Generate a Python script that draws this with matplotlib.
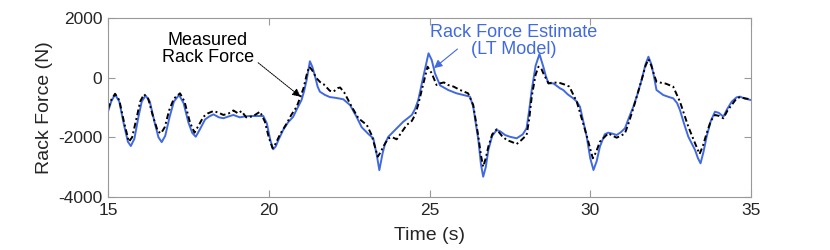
import matplotlib
matplotlib.use("Agg")
import matplotlib.pyplot as plt

plt.rcParams['font.family'] = ['Liberation Sans', 'DejaVu Sans']
plt.rcParams['axes.unicode_minus'] = False

# Estimated rack force (LT model), blue
t_est = [15.00, 15.10, 15.22, 15.35, 15.50, 15.62, 15.71, 15.82, 15.95, 16.05, 16.17, 16.30, 16.45, 16.57,
         16.67, 16.78, 16.92, 17.05, 17.21, 17.35, 17.50, 17.62, 17.73, 17.85, 18.02, 18.15, 18.28, 18.45,
         18.59, 18.75, 18.90, 19.10, 19.25, 19.42, 19.60, 19.83, 19.94, 20.05, 20.14, 20.22, 20.30, 20.45,
         20.60, 20.76, 20.90, 21.02, 21.10, 21.18, 21.28, 21.36, 21.44, 21.52, 21.59, 21.75, 21.90, 22.10,
         22.32, 22.53, 22.73, 22.89, 23.10, 23.25, 23.36, 23.44, 23.54, 23.62, 23.72, 23.98, 24.18, 24.45,
         24.55, 24.65, 24.81, 24.97, 25.07, 25.17, 25.33, 25.58, 25.84, 26.05, 26.26, 26.36, 26.52, 26.60,
         26.67, 26.75, 26.83, 26.95, 27.09, 27.20, 27.35, 27.50, 27.71, 27.90, 28.02, 28.10, 28.18, 28.30,
         28.42, 28.54, 28.62, 28.70, 28.85, 29.06, 29.16, 29.30, 29.47, 29.58, 29.68, 29.89, 30.00, 30.10,
         30.20, 30.30, 30.45, 30.56, 30.70, 30.82, 30.95, 31.08, 31.20, 31.34, 31.47, 31.60, 31.72, 31.81,
         31.90, 31.98, 32.06, 32.27, 32.45, 32.58, 32.70, 32.79, 32.92, 33.05, 33.26, 33.35, 33.43, 33.52,
         33.62, 33.75, 33.88, 34.00, 34.14, 34.26, 34.40, 34.55, 34.66, 34.80, 35.00]
f_est = [-1140, -800, -560, -800, -1600, -2150, -2290, -2050, -1300, -800, -600, -800, -1500, -2000,
         -2160, -1950, -1300, -800, -580, -850, -1500, -1850, -1980, -1750, -1400, -1300, -1230, -1330,
         -1360, -1300, -1250, -1330, -1300, -1285, -1285, -1285, -1530, -2100, -2400, -2300, -2090, -1750,
         -1500, -1310, -1000, -750, -450, -70, 550, 350, 45, -300, -470, -580, -650, -680,
         -725, -920, -1310, -1660, -1890, -2030, -2590, -3100, -2540, -2200, -1980, -1700, -1480, -1250,
         -1050, -750, 45, 816, 590, 146, -260, -413, -524, -580, -636, -973, -2090, -2900,
         -3320, -3000, -2425, -1950, -1754, -1800, -1922, -1980, -2033, -1900, -1697, -1100, -413, 400,
         790, 368, 50, -190, -190, -357, -413, -560, -692, -800, -973, -1978, -2700, -3095,
         -2800, -2313, -1900, -1843, -1880, -1922, -1830, -1697, -1350, -973, -550, -67, 450, 703,
         450, 50, -413, -581, -650, -692, -850, -1084, -1550, -1978, -2425, -2700, -2871, -2500,
         -1978, -1450, -1141, -1180, -1308, -1050, -805, -660, -636, -700, -750]

# Measured rack force, black dash-dot
t_meas = [15.00, 15.10, 15.22, 15.35, 15.50, 15.65, 15.75, 15.90, 16.00, 16.12, 16.25, 16.40, 16.55, 16.65,
          16.77, 16.90, 17.05, 17.24, 17.38, 17.55, 17.69, 17.82, 17.97, 18.10, 18.28, 18.45, 18.59, 18.75,
          18.90, 19.05, 19.15, 19.30, 19.50, 19.73, 19.88, 20.00, 20.12, 20.22, 20.35, 20.56, 20.70, 20.87,
          21.00, 21.08, 21.18, 21.26, 21.35, 21.49, 21.60, 21.70, 21.90, 22.01, 22.15, 22.22, 22.35, 22.58,
          22.79, 23.05, 23.20, 23.39, 23.48, 23.56, 23.72, 23.85, 23.98, 24.15, 24.29, 24.45, 24.55, 24.65,
          24.76, 24.94, 25.07, 25.22, 25.33, 25.45, 25.58, 25.75, 25.95, 26.10, 26.20, 26.36, 26.52, 26.60,
          26.67, 26.75, 26.83, 26.95, 27.09, 27.25, 27.40, 27.55, 27.71, 27.85, 28.02, 28.10, 28.18, 28.30,
          28.39, 28.48, 28.54, 28.70, 28.85, 29.06, 29.20, 29.35, 29.58, 29.84, 30.08, 30.18, 30.30, 30.56,
          30.70, 30.82, 30.95, 31.08, 31.20, 31.34, 31.47, 31.60, 31.72, 31.81, 31.90, 32.00, 32.06, 32.20,
          32.35, 32.58, 32.79, 33.05, 33.26, 33.40, 33.50, 33.62, 33.75, 33.88, 34.00, 34.14, 34.27, 34.40,
          34.55, 34.66, 34.80, 35.00]
f_meas = [-1050, -750, -540, -750, -1500, -2146, -2000, -1300, -800, -558, -700, -1300, -1800, -1866,
          -1650, -1100, -700, -524, -800, -1500, -1843, -1600, -1308, -1200, -1117, -1180, -1250, -1200,
          -1100, -1200, -1120, -1330, -1300, -1140, -1476, -2000, -2368, -2200, -1900, -1531, -1250, -973,
          -600, -357, 100, 368, 250, -22, -150, -212, -440, -470, -350, -330, -500, -973,
          -1362, -1586, -1922, -2648, -2500, -2313, -2033, -2000, -2067, -1800, -1586, -1450, -1251, -900,
          -413, 368, 146, -246, -190, -160, -246, -300, -413, -480, -524, -916, -1978, -2600,
          -2985, -2700, -2313, -1900, -1731, -1950, -2090, -2150, -2224, -2100, -1922, -1400, -636, 100,
          368, 300, 146, -190, -160, -180, -230, -300, -805, -1754, -2703, -2500, -2145, -1866,
          -1950, -2012, -1950, -1866, -1500, -1028, -550, -67, 400, 616, 400, 50, -135, -170,
          -200, -302, -805, -1643, -2201, -2559, -2300, -1866, -1450, -1251, -1280, -1362, -1100, -917,
          -700, -650, -690, -730]

x_ticks = [15, 20, 25, 30, 35]
y_ticks = [-4000, -2000, 0, 2000]

blue = '#4169E1'
fig = plt.figure(figsize=(8.3, 2.5), dpi=100)
ax = fig.add_axes([108/830, 53/250, 643/830, 179/250])

ax.plot(t_est, f_est, color=blue, lw=1.4)
ax.plot(t_meas, f_meas, color='black', lw=1.4, linestyle=(0, (3, 1.5, 1, 1.5)))

ax.set_xlim(15, 35)
ax.set_ylim(-4000, 2000)
ax.set_xticks(x_ticks)
ax.set_yticks(y_ticks)
ax.tick_params(direction='in', top=True, right=True, length=5, width=0.8,
               labelsize=12.5, colors='#999999', labelcolor='#262626', pad=4)
for s in ax.spines.values():
    s.set_color('#999999')
    s.set_linewidth(0.8)
ax.set_xlabel('Time (s)', fontsize=14, color='#262626', labelpad=7)
ax.set_ylabel('Rack Force (N)', fontsize=14, color='#262626', labelpad=4)

ax.text(18.11, 960, 'Measured\nRack Force', ha='center', va='center',
        fontsize=13, linespacing=1.0, color='black')
ax.annotate('', xy=(20.99, -640), xytext=(19.67, 500),
            arrowprops=dict(arrowstyle='-|>', color='black', lw=0.7, linestyle=(0, (1.5, 1)),
                            mutation_scale=12, shrinkA=0, shrinkB=0))
ax.text(27.63, 1230, 'Rack Force Estimate\n(LT Model)', ha='center', va='center',
        fontsize=13, linespacing=0.95, color=blue)
ax.annotate('', xy=(25.14, 320), xytext=(25.87, 960),
            arrowprops=dict(arrowstyle='-|>', color=blue, lw=0.8,
                            mutation_scale=12, shrinkA=0, shrinkB=0))

fig.savefig('out.png', dpi=100)
